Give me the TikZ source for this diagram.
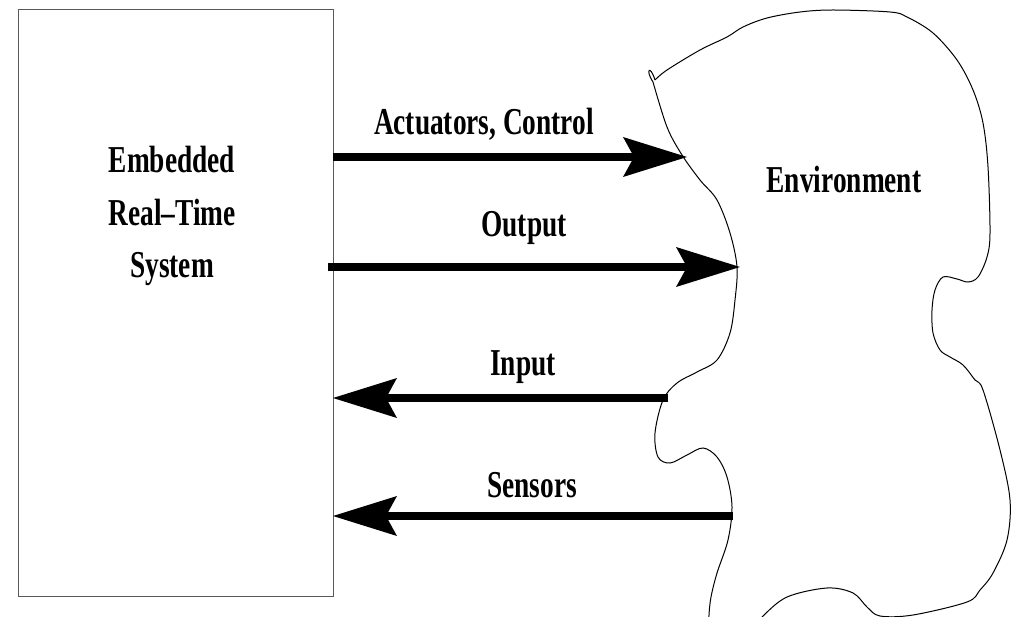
\documentclass[tikz,border=0pt]{standalone}
\usepackage{fontspec}
\newfontfamily\labelfont[FakeStretch=0.72]{Liberation Serif}
\usetikzlibrary{arrows.meta}

\tikzset{
  label text/.style={font=\labelfont\bfseries\fontsize{38}{52.5}\selectfont,
    inner sep=0pt, outer sep=0pt, anchor=base},
  system box/.style={draw=black!65, line width=1pt, inner sep=0pt, outer sep=0pt,
    minimum width=315pt, minimum height=586pt},
  flow/.style={line width=8pt, line cap=butt,
    -{Stealth[length=64pt, width=40pt, inset=11pt, line width=0pt]}},
  outline/.style={line width=1pt, black}
}

\begin{document}
\begin{tikzpicture}[x=1pt, y=-1pt]
  \useasboundingbox (0,0) rectangle (1016,617);

  % the embedded system (label anchored on the baseline of its last line)
  \node[system box] (sys) at (175.5,303) {};
  \node[label text, align=center] (syslabel) at (172,278)
    {Embedded\\Real\char"2013 Time\\System};

  % the environment, an irregular blob running off the bottom edge
  \begin{scope}
    \clip (0,0) rectangle (1016,617);
    \draw[outline] plot[smooth, tension=0.55] coordinates {
      (709,630) (709,615) (711,597) (717,573) (728,540) (732,507) (727,477)
      (717,457) (703,448) (687,455) (670,463) (658,457) (655,433) (663,400)
      (677,383) (697,372) (717,360) (730,333) (735,300) (737,267) (730,233)
      (717,200) (700,180) (682,155) (667,127) (653,82)}
      .. controls (645,70) and (650,64) .. (655,80)
      plot[smooth, tension=0.55] coordinates {
      (655,80) (667,70) (700,50) (727,37) (743,27) (767,18) (800,12) (833,10)
      (890,12) (907,17) (933,33) (957,60) (973,90) (983,123) (988,167)
      (990,233) (987,257) (978,277) (968,282) (957,279) (943,277) (935,290)
      (932,310) (933,333) (940,350) (950,357) (963,365) (975,380) (983,390)
      (1000,450) (1010,500) (1007,540) (993,573) (980,590) (967,602)
      (913,615) (880,616) (867,607) (853,593) (827,588) (787,597) (762,617)
      (752,630)};
  \end{scope}
  \node[label text] (envlabel) at (844,193) {Environment};

  % where the flows meet the environment
  \coordinate (act) at (687,157);
  \coordinate (out) at (740,267);
  \coordinate (inp) at (668,398);
  \coordinate (sen) at (733,516);

  % flows between system and environment
  \draw[flow] (sys.east |- act) -- (act);
  \draw[flow] ([xshift=-5pt]sys.east |- out) -- (out);
  \draw[flow] (inp) -- (sys.east |- inp);
  \draw[flow] (sen) -- (sys.east |- sen);

  \node[label text] (actlabel) at (484,135) {Actuators, Control};
  \node[label text] (outlabel) at (524,237) {Output};
  \node[label text] (inplabel) at (523,375) {Input};
  \node[label text] (senlabel) at (532,497) {Sensors};
\end{tikzpicture}
\end{document}
